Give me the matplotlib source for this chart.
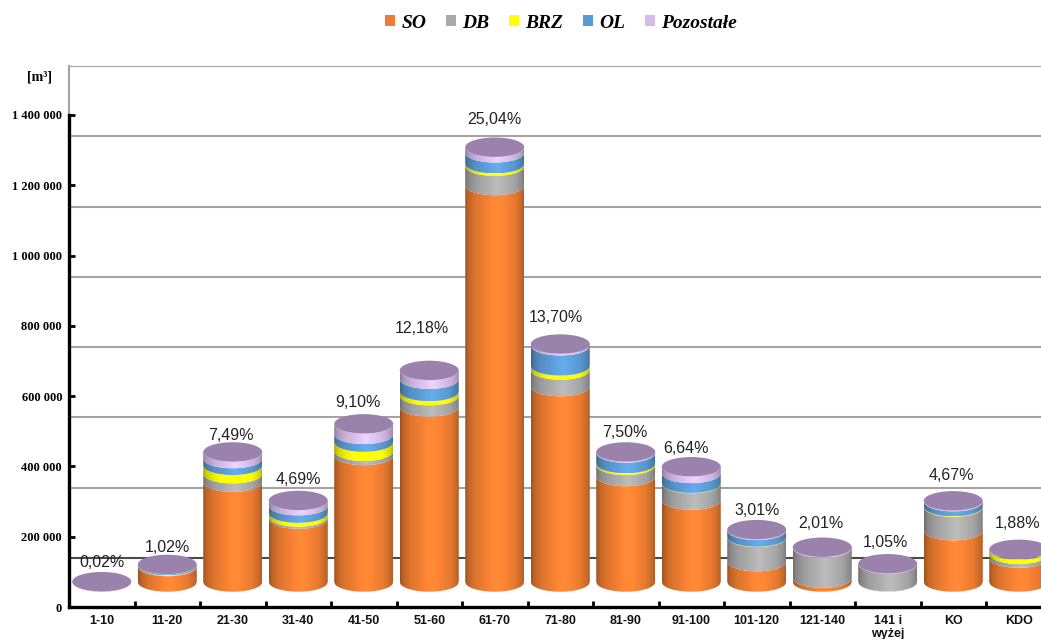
"""
Stacked cylinder chart of timber volume by age class, species shares on top of each other
"""
import numpy as np
import matplotlib
matplotlib.use('Agg')
import matplotlib.pyplot as plt
from matplotlib.colors import to_rgb
from matplotlib.patches import Ellipse, Patch, Polygon

# ── Data (m3) ────────────────────────────────────────────────────────────────
classes = ['1-10', '11-20', '21-30', '31-40', '41-50', '51-60', '61-70', '71-80',
           '81-90', '91-100', '101-120', '121-140', '141 i\nwyżej', 'KO', 'KDO']
shares = ['0,02%', '1,02%', '7,49%', '4,69%', '9,10%', '12,18%', '25,04%', '13,70%',
          '7,50%', '6,64%', '3,01%', '2,01%', '1,05%', '4,67%', '1,88%']
so = [1000, 44000, 284000, 179000, 360000, 498000, 1128000, 556000,
      300000, 233000, 58000, 11000, 1000, 146000, 68000]
db = [0, 1500, 24000, 6000, 12000, 32000, 55000, 47000,
      32000, 47000, 69000, 86000, 50000, 67000, 11000]
brz = [0, 1000, 24000, 11000, 26000, 12000, 7000, 12000,
       5000, 1000, 1000, 0, 0, 1500, 12000]
ol = [0, 3000, 19000, 21000, 22000, 35000, 31000, 57000,
      30000, 28000, 19000, 0, 0, 14000, 1000]
poz = [0, 500, 19000, 15000, 30000, 25000, 16000, 5000,
       3000, 19000, 2000, 2000, 1000, 2500, 1000]

series = [('SO', so, '#ee7d31'), ('DB', db, '#a9a9a9'), ('BRZ', brz, '#ffff00'),
          ('OL', ol, '#5b9bd5'), ('Pozostałe', poz, '#d5bce8')]
y_ticks = list(range(0, 1400001, 200000))

# ── Layout (pixels of the 1041x639 picture -> data units) ────────────────────
W, H = 1041, 639
CAT_PX = 65.5
M3_PER_PX = 200000 / 70.3
WALL = 49 * M3_PER_PX       # back wall gridlines sit higher than the axis ticks
FLOOR = 25 * M3_PER_PX      # cylinders stand in the middle of the floor
HALF_W = 29.5 / CAT_PX
HALF_H = 9.7 * M3_PER_PX
TOP_COLOR = '#9b82ad'

label_dx = [0, 0, -2, 0, -6, -7, 0, -4, -1, -5, 0, -1, -2, -2, -1]
label_dy = [19, 17, 16, 21, 21, 42, 28, 27, 19, 18, 19, 24, 21, 25, 26]

plt.rcParams['font.family'] = ['Liberation Sans', 'DejaVu Sans']

fig = plt.figure(figsize=(W / 100, H / 100), dpi=100)
ax = fig.add_axes([69 / W, (H - 607) / H, (W - 69) / W, (607 - 66) / H])
xlim = (0, (W - 69) / CAT_PX)
ylim = (0, (607 - 66) * M3_PER_PX)


def shaded(color):
    # horizontal shading of a cylinder: dark edges, bright middle
    t = np.linspace(0, 1, 64)
    f = np.interp(t, [0, .05, .18, .55, .85, .96, 1], [.66, .8, .93, 1.12, .97, .84, .74])
    img = np.clip(np.outer(f, to_rgb(color)), 0, 1)
    return img[np.newaxis, :, :]


def draw_segment(cx, y0, y1, color):
    xs = np.linspace(-1, 1, 60)
    arc = np.sqrt(1 - xs ** 2) * HALF_H
    pts = np.vstack([
        np.column_stack([cx + xs * HALF_W, y0 - arc]),
        np.column_stack([cx + xs[::-1] * HALF_W, y1 - arc[::-1]]),
    ])
    poly = Polygon(pts, closed=True, facecolor='none', edgecolor='none', zorder=3)
    ax.add_patch(poly)
    im = ax.imshow(shaded(color), extent=(cx - HALF_W, cx + HALF_W, y0 - HALF_H, y1 + HALF_H),
                   aspect='auto', interpolation='bilinear', zorder=3)
    im.set_clip_path(poly)


# Back wall
for v in y_ticks:
    ax.axhline(v + WALL, color='#4a4a4a' if v == 0 else '#a3a3a3', lw=1.5, zorder=1)

# Cylinders
for i, name in enumerate(classes):
    cx = i + 0.5
    y = FLOOR
    for _, vals, color in series:
        if vals[i] > 0:
            draw_segment(cx, y, y + vals[i], color)
            y += vals[i]
    ax.add_patch(Ellipse((cx, y), 2 * HALF_W, 2 * HALF_H, facecolor=TOP_COLOR,
                         edgecolor='none', zorder=4))
    ax.annotate(shares[i], xy=(cx, y), xytext=(label_dx[i] * 0.72, label_dy[i] * 0.72),
                textcoords='offset points', ha='center', va='center',
                fontsize=11.5, color='#222222', zorder=5)

ax.set_xlim(*xlim)
ax.set_ylim(*ylim)

# Axes
for s in ['top', 'right']:
    ax.spines[s].set_visible(False)
ax.spines['left'].set_bounds(0, y_ticks[-1])
ax.spines['left'].set_linewidth(2.4)
ax.spines['bottom'].set_linewidth(2.4)
ax.plot([0, 0], [y_ticks[-1], ylim[1]], color='#a3a3a3', lw=1.5, clip_on=False, zorder=1)

ax.set_yticks(y_ticks)
ax.set_yticklabels([f'{v:,}'.replace(',', ' ') for v in y_ticks], family='Liberation Serif',
                   fontweight='bold', fontsize=9)
ax.tick_params(axis='y', direction='in', length=4, width=2, pad=5)

ax.set_xticks(np.arange(0, 15))
ax.set_xticklabels([])
ax.set_xticks(np.arange(15) + 0.5, classes, minor=True, fontweight='bold', fontsize=9,
              linespacing=1.1, color='#111111')
ax.tick_params(axis='x', which='major', direction='in', length=4, width=2)
ax.tick_params(axis='x', which='minor', length=0, pad=6)

fig.text(40 / W, 1 - 77 / H, '[m³]', family='Liberation Serif', fontweight='bold',
         fontsize=10, ha='center', va='center')

# Legend
handles = [Patch(facecolor=c, edgecolor='none', label=n) for n, _, c in series]
fig.legend(handles=handles, loc='center', bbox_to_anchor=(561 / W, 1 - 23 / H), ncols=5,
           frameon=False, handlelength=0.5, handleheight=0.5, handletextpad=0.35,
           columnspacing=1.0, borderpad=0,
           prop={'family': 'Liberation Serif', 'weight': 'bold', 'style': 'italic', 'size': 14})

plt.savefig('out.png', dpi=100)
plt.close()
